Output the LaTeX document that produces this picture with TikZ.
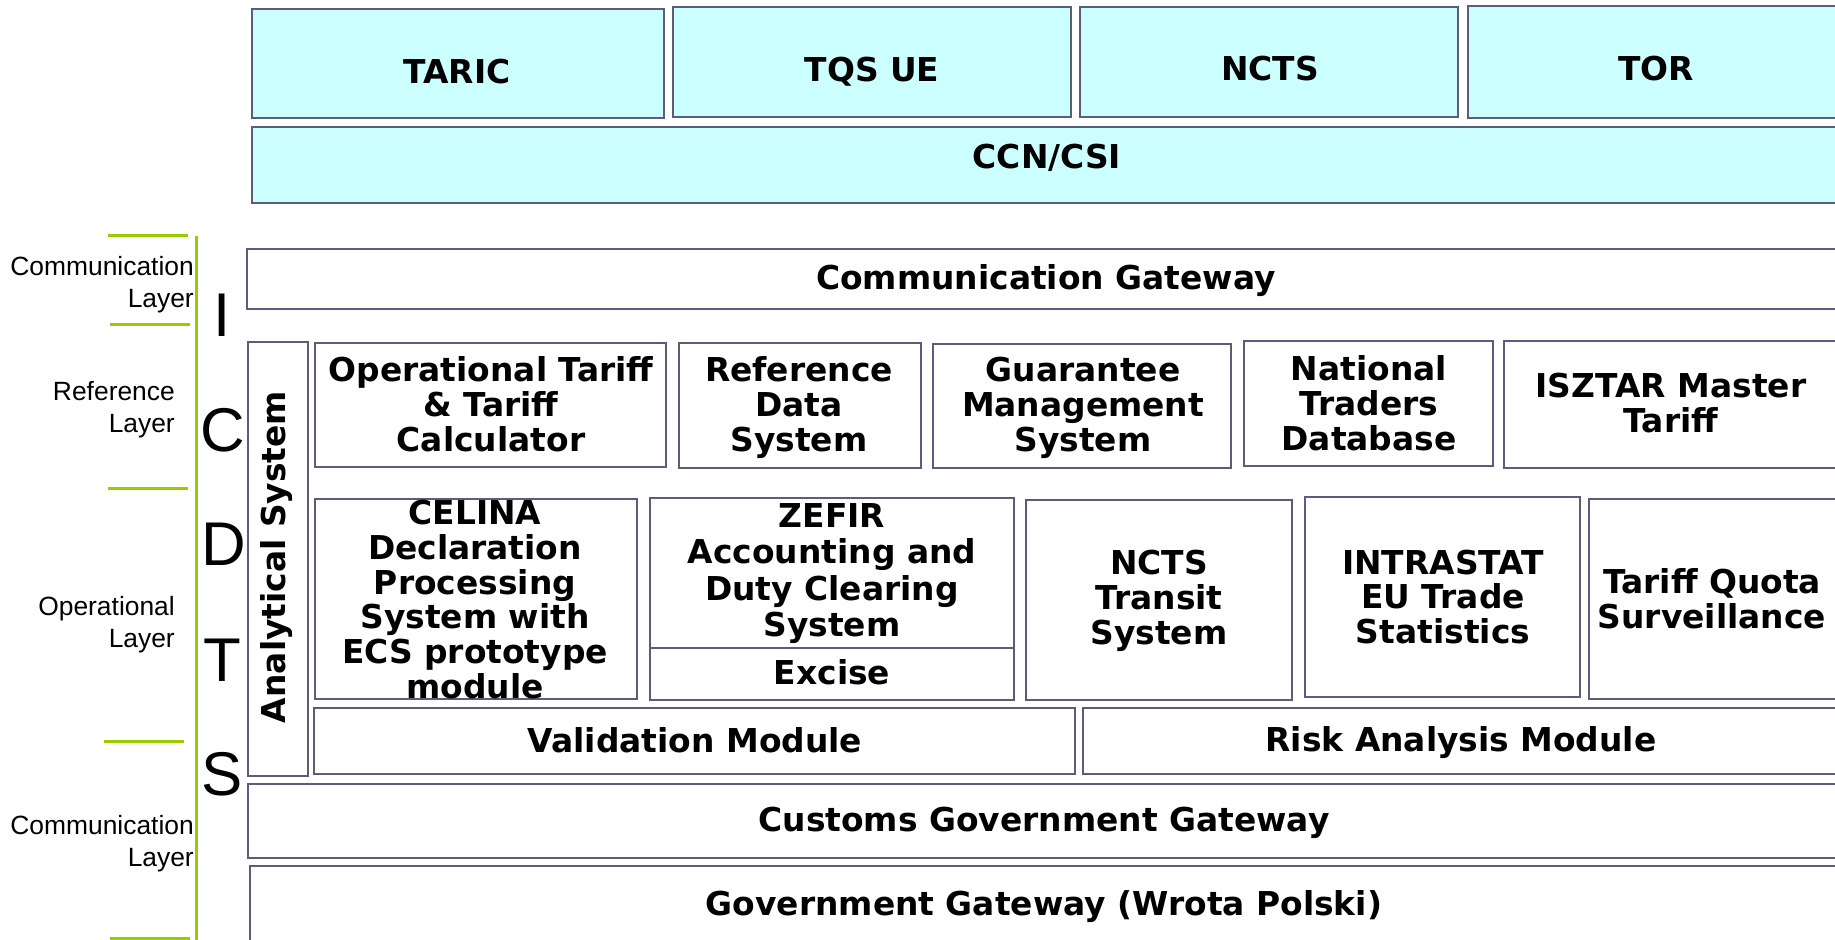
\documentclass[tikz,border=0pt]{standalone}
\usepackage{fontspec}
\setmainfont{DejaVu Sans}
\newfontfamily\labfont{Liberation Sans}
\definecolor{boxc}{HTML}{5C5C7E}
\definecolor{cyanf}{HTML}{CCFFFF}
\definecolor{grn}{HTML}{99CC00}
\newcommand\bxfont{\fontsize{33}{35}\selectfont\bfseries}
\tikzset{
  bx/.style={draw=boxc, line width=2.5bp, fill=white, inner sep=0pt, rectangle},
  cbx/.style={bx, fill=cyanf},
  txt/.style={font=\bxfont, align=center, inner sep=0pt, text=black},
  layerlab/.style={font=\labfont\fontsize{26.5}{32}\selectfont, align=right, inner sep=0pt, anchor=east},
  bigletter/.style={font=\labfont\fontsize{62}{62}\selectfont, inner sep=0pt},
  gline/.style={draw=grn, line width=3bp}
}
\begin{document}
\begin{tikzpicture}[x=1bp,y=-1bp]
\useasboundingbox (0,0) rectangle (1835,939);
\clip (0,0) rectangle (1835,939);
\fill[white] (0,0) rectangle (1835,939);
% top row
\node[cbx, minimum width=412bp, minimum height=109bp] (taric) at (458,63.5) {};
\node[cbx, minimum width=398bp, minimum height=110bp] (tqs) at (872,62) {};
\node[cbx, minimum width=378bp, minimum height=110bp] (ncts) at (1269,62) {};
\node[cbx, minimum width=432bp, minimum height=112bp] (tor) at (1684,62) {};
\node[cbx, minimum width=1648bp, minimum height=76bp] (ccn) at (1076,165) {};
\node[txt] (taricT) at (457,72) {TARIC};
\node[txt] (tqsT) at (872,71.5) {TQS UE};
\node[txt] (nctsT) at (1270,69) {NCTS};
\node[txt] (torT) at (1656,69) {TOR};
\node[txt] (ccnT) at (1047,157.5) {CCN/CSI};
% communication gateway
\node[bx, minimum width=1653bp, minimum height=60bp] (commgw) at (1073.5,279) {};
\node[txt] (commgwT) at (1046,280.5) {Communication Gateway};
% analytical
\node[bx, minimum width=60bp, minimum height=434bp] (analyt) at (278,559) {};
\node[txt, rotate=90] (analytT) at (277,557) {Analytical System};
% reference layer
\node[bx, minimum width=351bp, minimum height=124bp] (optariff) at (490.5,405) {};
\node[bx, minimum width=242bp, minimum height=125bp] (refdata) at (800,405.5) {};
\node[bx, minimum width=298bp, minimum height=124bp] (guar) at (1082,406) {};
\node[bx, minimum width=249bp, minimum height=125bp] (traders) at (1368.5,403.5) {};
\node[bx, minimum width=396bp, minimum height=127bp] (isztar) at (1702,404.5) {};
\node[txt] (optariffT) at (491,404) {Operational Tariff\\\& Tariff\\Calculator};
\node[txt] (refdataT) at (799,407.5) {Reference\\Data\\System};
\node[txt] (guarT) at (1083,408) {Guarantee\\Management\\System};
\node[txt] (tradersT) at (1369,403) {National\\Traders\\Database};
\node[txt] (isztarT) at (1671,403) {ISZTAR Master\\Tariff};
% operational layer
\node[bx, minimum width=322bp, minimum height=200bp] (celina) at (476,599) {};
\node[bx, minimum width=364bp, minimum height=150bp] (zefir) at (832,573) {};
\node[bx, minimum width=364bp, minimum height=52bp] (excise) at (832,674) {};
\node[bx, minimum width=266bp, minimum height=200bp] (nctst) at (1159,600) {};
\node[bx, minimum width=275bp, minimum height=200bp] (intra) at (1442.5,597) {};
\node[bx, minimum width=311bp, minimum height=200bp] (tqsurv) at (1744.5,599) {};
\node[txt] (celinaT) at (475,599.5) {CELINA\\Declaration\\Processing\\System with\\ECS prototype\\module};
\node[txt, font=\fontsize{33}{36.5}\selectfont\bfseries] (zefirT) at (832,573.5) {ZEFIR\\Accounting and\\Duty Clearing\\System};
\node[txt] (exciseT) at (832,672) {Excise};
\node[txt] (nctstT) at (1159,601) {NCTS\\Transit\\System};
\node[txt] (intraT) at (1443,597) {INTRASTAT\\EU Trade\\Statistics};
\node[txt] (tqsurvT) at (1712,599) {Tariff Quota\\Surveillance};
% modules
\node[bx, minimum width=761bp, minimum height=66bp] (valid) at (694.5,741) {};
\node[bx, minimum width=817bp, minimum height=66bp] (risk) at (1491.5,741) {};
\node[txt] (validT) at (695,740) {Validation Module};
\node[txt] (riskT) at (1461,742.5) {Risk Analysis Module};
% gateways
\node[bx, minimum width=1652bp, minimum height=74bp] (customs) at (1074,821) {};
\node[bx, minimum width=1650bp, minimum height=94bp] (govgw) at (1075,913) {};
\node[txt] (customsT) at (1044,822.5) {Customs Government Gateway};
\node[txt] (govgwT) at (1044,906.5) {Government Gateway (Wrota Polski)};
% green layer lines
\draw[gline] (196,236) -- (196,945);
\draw[gline] (108,235) -- (188,235);
\draw[gline] (110,324) -- (190,324);
\draw[gline] (108,488) -- (188,488);
\draw[gline] (104,741) -- (184,741);
\draw[gline] (110,938) -- (190,938);
% layer labels
\node[layerlab] (l1) at (194,285) {Communication\\Layer};
\node[layerlab] (l2) at (175,410) {Reference\\Layer};
\node[layerlab] (l3) at (175,625) {Operational\\Layer};
\node[layerlab] (l4) at (194,843.5) {Communication\\Layer};
% ICDTS letters
\node[bigletter] (lI) at (222,315) {I};
\node[bigletter] (lC) at (223,430) {C};
\node[bigletter] (lD) at (224,544) {D};
\node[bigletter] (lT) at (222,660) {T};
\node[bigletter] (lS) at (222,774.5) {S};
\end{tikzpicture}
\end{document}
